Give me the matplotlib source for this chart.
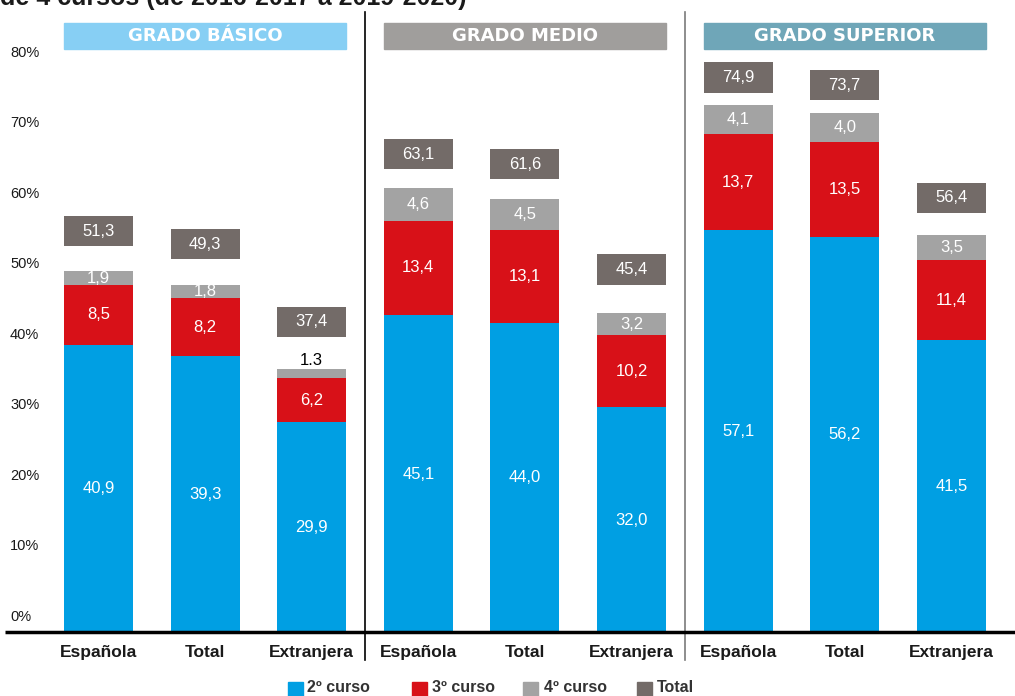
import matplotlib
matplotlib.use("Agg")
import matplotlib.pyplot as plt
from matplotlib.patches import Rectangle
import numpy as np

# data (percent)
groups = ["GRADO BÁSICO", "GRADO MEDIO", "GRADO SUPERIOR"]
categories = ["Española", "Total", "Extranjera"]
curso2 = [40.9, 39.3, 29.9, 45.1, 44.0, 32.0, 57.1, 56.2, 41.5]
curso3 = [8.5, 8.2, 6.2, 13.4, 13.1, 10.2, 13.7, 13.5, 11.4]
curso4 = [1.9, 1.8, 1.3, 4.6, 4.5, 3.2, 4.1, 4.0, 3.5]
totals = [51.3, 49.3, 37.4, 63.1, 61.6, 45.4, 74.9, 73.7, 56.4]
yticks = [0, 10, 20, 30, 40, 50, 60, 70, 80]
legend_names = ["2º curso", "3º curso", "4º curso", "Total"]

c_blue = "#009fe3"
c_red = "#d81118"
c_gray = "#a3a3a3"
c_dark = "#736b68"
head_colors = ["#87cff4", "#a09e9c", "#6fa6b8"]

NUM = ["Liberation Sans", "DejaVu Sans"]
NARROW = ["Liberation Sans Narrow", "Liberation Sans", "DejaVu Sans"]

fig = plt.figure(figsize=(10.15, 6.96), dpi=100)
ax = fig.add_axes([0, 0, 1, 1])
ax.set_xlim(-0.924, 8.597)
ax.set_ylim(-8.94, 89.79)
ax.axis("off")

x = np.arange(9)
w = 0.647
b1 = np.array(curso2)
b2 = b1 + np.array(curso3)
ax.bar(x, curso2, w, color=c_blue, zorder=2)
ax.bar(x, curso3, w, bottom=b1, color=c_red, zorder=2)
ax.bar(x, curso4, w, bottom=b2, color=c_gray, zorder=2)

def fmt(v):
    return f"{v:.1f}".replace(".", ",")

for i in range(9):
    ax.text(x[i], curso2[i] / 2, fmt(curso2[i]), color="white", ha="center",
            va="center", fontsize=12, family=NUM, zorder=3)
    ax.text(x[i], b1[i] + curso3[i] / 2, fmt(curso3[i]), color="white",
            ha="center", va="center", fontsize=12, family=NUM, zorder=3)
    if curso4[i] < 1.5:
        ax.text(x[i], b2[i] + curso4[i] + 1.2, str(curso4[i]), color="black",
                ha="center", va="center", fontsize=12, family=NUM, zorder=3)
    else:
        ax.text(x[i], b2[i] + curso4[i] / 2, fmt(curso4[i]), color="white",
                ha="center", va="center", fontsize=12, family=NUM, zorder=3)
    # total box, floating above the stack
    yc = 0.924 * totals[i] + 9.6
    ax.bar(x[i], 4.3, w, bottom=yc - 2.15, color=c_dark, zorder=2)
    ax.text(x[i], yc, fmt(totals[i]), color="white", ha="center", va="center",
            fontsize=12, family=NUM, zorder=3)
    # category label
    ax.text(x[i], -2.7, categories[i % 3], ha="center", va="center",
            fontsize=12.5, fontweight="bold", family=NARROW, color="#1a1a1a")

# y tick labels
for t in yticks:
    ax.text(-0.83, t + 2.3, f"{t}%", ha="left", va="center", fontsize=10.5,
            family=NUM, color="#1a1a1a")

# group headers
for g in range(3):
    x0 = 3 * g - w / 2
    x1 = 3 * g + 2 + w / 2
    ax.add_patch(Rectangle((x0, 82.8), x1 - x0, 3.7, color=head_colors[g],
                           zorder=2))
    ax.text((x0 + x1) / 2, 84.65, groups[g], color="white", ha="center",
            va="center", fontsize=13, fontweight="bold", family="DejaVu Sans",
            zorder=3)

# separators
ax.plot([2.5, 2.5], [-3.8, 88.1], color="black", lw=1.2, zorder=1)
ax.plot([5.5, 5.5], [-3.8, 88.1], color="#7a7a7a", lw=1.2, zorder=1)

# baseline
ax.plot([-0.88, 8.6], [0.1, 0.1], color="black", lw=2.5, zorder=4,
        solid_capstyle="butt")

# legend
sq_x = [1.778, 2.941, 3.983, 5.052]
txt_x = [1.956, 3.129, 4.179, 5.239]
leg_colors = [c_blue, c_red, c_gray, c_dark]
for sx, tx, lc, ln in zip(sq_x, txt_x, leg_colors, legend_names):
    ax.add_patch(Rectangle((sx, -8.9), 0.141, 2.0, color=lc, clip_on=False))
    ax.text(tx, -7.8, ln, ha="left", va="center", fontsize=11.5,
            fontweight="bold", family=NARROW, color="#333333")

# title, cut off by the top edge as in the source
fig.text(0.0, 1 - 5 / 696, "de 4 cursos (de 2016-2017 a 2019-2020)",
         ha="left", va="baseline", fontsize=18, fontweight="bold",
         family=NUM, color="#1a1a1a")

fig.savefig("out.png", dpi=100)
